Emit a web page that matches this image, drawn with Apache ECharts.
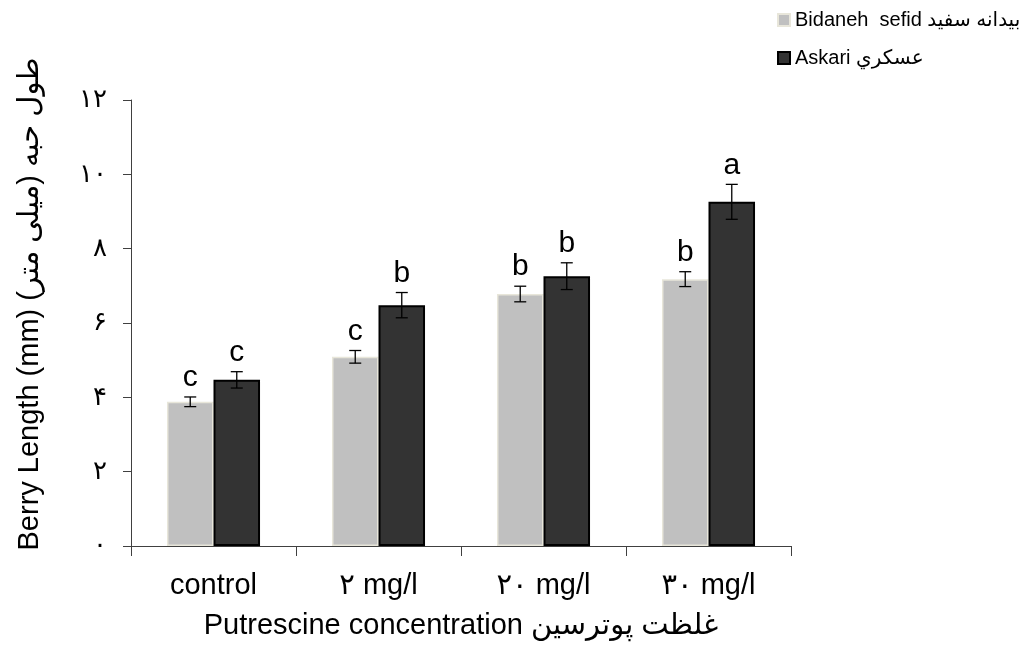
<!DOCTYPE html>
<html><head><meta charset="utf-8">
<script src="https://cdn.jsdelivr.net/npm/echarts@6/dist/echarts.min.js"></script>
<style>html,body{margin:0;padding:0;background:#fff}#c{width:1027px;height:646px}</style>
</head><body><div id="c"></div>
<script>
const categories = ['control', '۲ mg/l', '۲۰ mg/l', '۳۰ mg/l'];
const yTickLabels = ['۰', '۲', '۴', '۶', '۸', '۱۰', '۱۲'];
const seriesNames = ['Bidaneh  sefid بیدانه سفید', 'Askari عسکري'];
const bidanehValues = [3.88, 5.09, 6.78, 7.18];
const bidanehErrors = [0.13, 0.17, 0.21, 0.2];
const bidanehLetters = ['c', 'c', 'b', 'b'];
const askariValues = [4.47, 6.48, 7.26, 9.26];
const askariErrors = [0.22, 0.34, 0.36, 0.47];
const askariLetters = ['c', 'b', 'b', 'a'];

const FONT = '"Liberation Sans", Arial, "DejaVu Sans", sans-serif';
const GAP = 0.436;

function errSeries(values, errors, letters, side) {
  return {
    type: 'custom',
    silent: true,
    z: 10,
    data: values.map((v, i) => [i, v, errors[i]]),
    renderItem: function (params, api) {
      const i = api.value(0), v = api.value(1), e = api.value(2);
      const band = api.size([1, 0])[0];
      const bw = band * (1 - GAP) / 2;
      const c = api.coord([i, v]);
      const x = c[0] + side * bw / 2;
      const top = api.coord([i, v + e])[1];
      const bot = api.coord([i, v - e])[1];
      const cap = 6;
      const st = { stroke: '#000', lineWidth: 1.3 };
      return {
        type: 'group',
        children: [
          { type: 'line', shape: { x1: x, y1: top, x2: x, y2: bot }, style: st },
          { type: 'line', shape: { x1: x - cap, y1: top, x2: x + cap, y2: top }, style: st },
          { type: 'line', shape: { x1: x - cap, y1: bot, x2: x + cap, y2: bot }, style: st },
          { type: 'text', x: x, y: top - 4, style: { text: letters[i], fill: '#000', font: '30px ' + FONT, textAlign: 'center', textVerticalAlign: 'bottom' } }
        ]
      };
    }
  };
}

const chart = echarts.init(document.getElementById('c'), null, { renderer: 'canvas' });
chart.setOption({
  animation: false,
  backgroundColor: '#fff',
  textStyle: { fontFamily: FONT },
  grid: { left: 131, right: 236, top: 100, bottom: 100, containLabel: false },
  legend: {
    orient: 'vertical',
    left: 772,
    top: 4,
    itemGap: 16,
    itemWidth: 12,
    itemHeight: 12,
    icon: 'rect',
    textStyle: { fontSize: 20, color: '#000', fontFamily: FONT, lineHeight: 22 },
    data: seriesNames
  },
  xAxis: {
    type: 'category',
    data: categories,
    axisLine: { lineStyle: { color: '#404040', width: 1 } },
    axisTick: { show: true, length: 10, lineStyle: { color: '#404040' } },
    axisLabel: { fontSize: 29, color: '#000', margin: 25, fontFamily: FONT },
    name: 'Putrescine concentration غلظت پوترسین',
    nameLocation: 'middle',
    nameGap: 65,
    nameTextStyle: { fontSize: 29, color: '#000', fontFamily: FONT }
  },
  yAxis: {
    type: 'value',
    min: 0, max: 12, interval: 2,
    axisLine: { show: true, lineStyle: { color: '#404040', width: 1 } },
    axisTick: { show: true, length: 8, lineStyle: { color: '#404040' } },
    splitLine: { show: false },
    axisLabel: { fontSize: 26, color: '#000', margin: 24, fontFamily: FONT,
      formatter: function (v) { return yTickLabels[Math.round(v / 2)]; } },
    name: 'Berry Length (mm) طول حبه (میلی متر)\u200F',
    nameLocation: 'middle',
    nameGap: 87,
    nameRotate: 90,
    nameTextStyle: { fontSize: 29, color: '#000', fontFamily: FONT, padding: [0, 0, 0, 38] }
  },
  series: [
    {
      name: seriesNames[0], type: 'bar', data: bidanehValues,
      barCategoryGap: (GAP * 100) + '%', barGap: '0%',
      itemStyle: { color: '#c0c0c0', borderColor: '#e8e6da', borderWidth: 1.5 }
    },
    {
      name: seriesNames[1], type: 'bar', data: askariValues,
      barCategoryGap: (GAP * 100) + '%', barGap: '0%',
      itemStyle: { color: '#333333', borderColor: '#000', borderWidth: 2 }
    },
    errSeries(bidanehValues, bidanehErrors, bidanehLetters, -1),
    errSeries(askariValues, askariErrors, askariLetters, 1)
  ]
});
</script></body></html>
